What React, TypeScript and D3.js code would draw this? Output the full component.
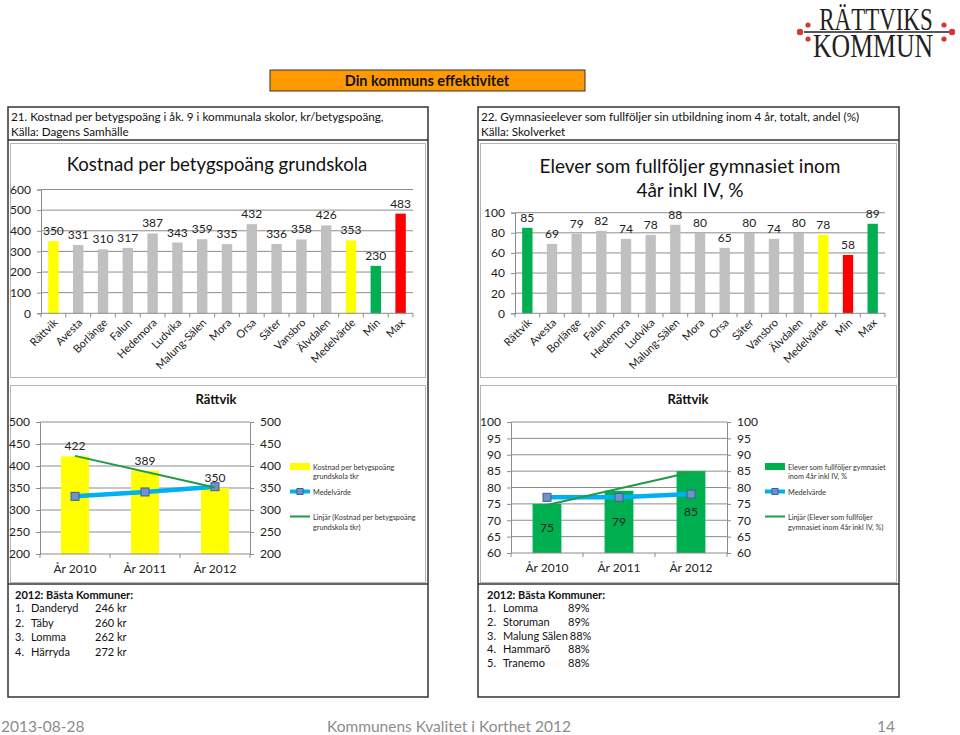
import { useEffect, useRef } from "react";
import * as d3 from "d3";

const FONT = "Lato, 'Open Sans', sans-serif";

// Top bar charts
const kommuner = ["Rättvik", "Avesta", "Borlänge", "Falun", "Hedemora", "Ludvika", "Malung-Sälen", "Mora", "Orsa", "Säter", "Vansbro", "Älvdalen", "Medelvärde", "Min", "Max"];
const kostnadPerPoang = [350, 331, 310, 317, 387, 343, 359, 335, 432, 336, 358, 426, 353, 230, 483];
const fullfoljerAndel = [85, 69, 79, 82, 74, 78, 88, 80, 65, 80, 74, 80, 78, 58, 89];
const kostnadTicks = [0, 100, 200, 300, 400, 500, 600];
const andelTicks = [0, 20, 40, 60, 80, 100];

// Rättvik over time
const ar = ["År 2010", "År 2011", "År 2012"];
const rattvikKostnad = [422, 389, 350];
const medelKostnad = [331, 341, 353];
const rattvikAndel = [75, 79, 85];
const medelAndel = [77, 77, 78];
const kostnadTicksAr = [200, 250, 300, 350, 400, 450, 500];
const andelTicksAr = [60, 65, 70, 75, 80, 85, 90, 95, 100];

// best municipalities
const bastaKostnad = [["1.", "Danderyd", "246 kr"], ["2.", "Täby", "260 kr"], ["3.", "Lomma", "262 kr"], ["4.", "Härryda", "272 kr"]];
const bastaAndel = [["1.", "Lomma", "89%"], ["2.", "Storuman", "89%"], ["3.", "Malung Sälen", "88%"], ["4.", "Hammarö", "88%"], ["5.", "Tranemo", "88%"]];

const GRAY = "#C0C0C0";
const kostnadFarg: Record<string, string> = { "Rättvik": "#FFFF00", "Medelvärde": "#FFFF00", "Min": "#00B050", "Max": "#FF0000" };
const andelFarg: Record<string, string> = { "Rättvik": "#00B050", "Medelvärde": "#FFFF00", "Min": "#FF0000", "Max": "#00B050" };

type Sel = d3.Selection<any, unknown, null, undefined>;

const drawBarChart = (svg: Sel, c: { left: number; right: number; y0: number; yTop: number; max: number; ticks: number[]; values: number[]; colors: Record<string, string> }) => {
  const g = svg.append("g");
  const x = d3.scaleBand().domain(kommuner).range([c.left, c.right]);
  const y = d3.scaleLinear().domain([0, c.max]).range([c.y0, c.yTop]);

  // gridlines
  g.selectAll(".grid").data(c.ticks.slice(1)).enter().append("line")
    .attr("x1", c.left).attr("x2", c.right)
    .attr("y1", d => y(d)).attr("y2", d => y(d))
    .attr("stroke", "#8c8c8c").attr("stroke-width", 1);

  const yAxis = g.append("g").attr("transform", `translate(${c.left},0)`)
    .call(d3.axisLeft(y).tickValues(c.ticks).tickSize(4).tickPadding(6));
  yAxis.select(".domain").attr("stroke", "#8c8c8c");
  yAxis.selectAll(".tick line").attr("stroke", "#8c8c8c");
  yAxis.selectAll("text").attr("font-family", FONT).attr("font-size", 12).attr("fill", "#222");

  // bars
  const bw = x.bandwidth() * 0.42;
  g.selectAll(".bar").data(c.values).enter().append("rect")
    .attr("x", (d, i) => (x(kommuner[i]) as number) + (x.bandwidth() - bw) / 2)
    .attr("y", d => y(d))
    .attr("width", bw)
    .attr("height", d => c.y0 - y(d))
    .attr("fill", (d, i) => c.colors[kommuner[i]] || GRAY);

  g.selectAll(".lbl").data(c.values).enter().append("text")
    .attr("x", (d, i) => (x(kommuner[i]) as number) + x.bandwidth() / 2)
    .attr("y", d => y(d) - 6)
    .attr("text-anchor", "middle")
    .attr("font-family", FONT).attr("font-size", 12).attr("fill", "#222")
    .text(d => d);

  // x axis
  g.append("line").attr("x1", c.left).attr("x2", c.right).attr("y1", c.y0).attr("y2", c.y0).attr("stroke", "#8c8c8c");
  const edges = kommuner.map(k => x(k) as number).concat([c.right]);
  g.selectAll(".xt").data(edges).enter().append("line")
    .attr("x1", d => d).attr("x2", d => d).attr("y1", c.y0).attr("y2", c.y0 + 4).attr("stroke", "#8c8c8c");
  g.selectAll(".xl").data(kommuner).enter().append("text")
    .attr("transform", d => `translate(${(x(d) as number) + x.bandwidth() / 2 + 5},${c.y0 + 10}) rotate(-45)`)
    .attr("text-anchor", "end")
    .attr("font-family", FONT).attr("font-size", 11).attr("fill", "#222")
    .text(d => d);
};

const drawComboChart = (svg: Sel, c: { left: number; right: number; y0: number; yTop: number; min: number; max: number; ticks: number[]; values: number[]; medel: number[]; barColor: string; inside: boolean; legendX: number; legendBar: string[]; legendTrend: string[]; titleX: number }) => {
  const g = svg.append("g");
  const x = d3.scaleBand().domain(ar).range([c.left, c.right]);
  const y = d3.scaleLinear().domain([c.min, c.max]).range([c.y0, c.yTop]);
  const cx = (i: number) => (x(ar[i]) as number) + x.bandwidth() / 2;

  g.append("text").attr("x", c.titleX).attr("y", 404).attr("text-anchor", "middle")
    .attr("font-family", FONT).attr("font-weight", "bold").attr("font-size", 13).attr("fill", "#111").text("Rättvik");

  g.selectAll(".grid").data(c.ticks.slice(1)).enter().append("line")
    .attr("x1", c.left).attr("x2", c.right)
    .attr("y1", d => y(d)).attr("y2", d => y(d))
    .attr("stroke", "#8c8c8c");

  const yl = g.append("g").attr("transform", `translate(${c.left},0)`)
    .call(d3.axisLeft(y).tickValues(c.ticks).tickSize(4).tickPadding(6));
  const yr = g.append("g").attr("transform", `translate(${c.right},0)`)
    .call(d3.axisRight(y).tickValues(c.ticks).tickSize(4).tickPadding(6));
  [yl, yr].forEach(a => {
    a.select(".domain").attr("stroke", "#8c8c8c");
    a.selectAll(".tick line").attr("stroke", "#8c8c8c");
    a.selectAll("text").attr("font-family", FONT).attr("font-size", 12).attr("fill", "#222");
  });

  const bw = x.bandwidth() * 0.4;
  g.selectAll(".bar").data(c.values).enter().append("rect")
    .attr("x", (d, i) => cx(i) - bw / 2)
    .attr("y", d => y(d))
    .attr("width", bw)
    .attr("height", d => c.y0 - y(d))
    .attr("fill", c.barColor);

  g.append("line").attr("x1", c.left).attr("x2", c.right).attr("y1", c.y0).attr("y2", c.y0).attr("stroke", "#8c8c8c");
  const edges = ar.map(a => x(a) as number).concat([c.right]);
  g.selectAll(".xt").data(edges).enter().append("line")
    .attr("x1", d => d).attr("x2", d => d).attr("y1", c.y0).attr("y2", c.y0 + 4).attr("stroke", "#8c8c8c");
  g.selectAll(".xl").data(ar).enter().append("text")
    .attr("x", d => (x(d) as number) + x.bandwidth() / 2).attr("y", c.y0 + 19)
    .attr("text-anchor", "middle").attr("font-family", FONT).attr("font-size", 12).attr("fill", "#222")
    .text(d => d);

  // linear trend of the bars
  const n = c.values.length;
  const mx = d3.mean(d3.range(n)) as number;
  const my = d3.mean(c.values) as number;
  const slope = d3.sum(d3.range(n), i => (i - mx) * (c.values[i] - my)) / d3.sum(d3.range(n), i => (i - mx) ** 2);
  const trend = (i: number) => my + slope * (i - mx);

  // Medelvärde line
  const line = d3.line<number>().x((d, i) => cx(i)).y(d => y(d));
  g.append("path").datum(c.medel).attr("d", line).attr("fill", "none").attr("stroke", "#00B0F0").attr("stroke-width", 4.5);
  g.selectAll(".mk").data(c.medel).enter().append("rect")
    .attr("x", (d, i) => cx(i) - 4).attr("y", d => y(d) - 4).attr("width", 8).attr("height", 8)
    .attr("fill", "#6F93C8").attr("stroke", "#3B5F96").attr("stroke-width", 1);

  g.append("line")
    .attr("x1", cx(0)).attr("y1", y(trend(0)))
    .attr("x2", cx(n - 1)).attr("y2", y(trend(n - 1)))
    .attr("stroke", "#1F9A48").attr("stroke-width", 2);

  // value labels
  g.selectAll(".lbl").data(c.values).enter().append("text")
    .attr("x", (d, i) => cx(i))
    .attr("y", d => c.inside ? (y(d) + c.y0) / 2 + 4 : y(d) - 6)
    .attr("text-anchor", "middle").attr("font-family", FONT).attr("font-size", 12).attr("fill", "#222")
    .text(d => d);

  // legend
  const L = g.append("g").attr("font-family", FONT).attr("font-size", 7.3).attr("fill", "#333");
  const lx = c.legendX;
  L.append("rect").attr("x", lx).attr("y", 463).attr("width", 20).attr("height", 7).attr("fill", c.barColor);
  c.legendBar.forEach((t, i) => L.append("text").attr("x", lx + 23).attr("y", 469.5 + i * 9.5).text(t));
  L.append("line").attr("x1", lx).attr("x2", lx + 20).attr("y1", 491.5).attr("y2", 491.5).attr("stroke", "#00B0F0").attr("stroke-width", 4);
  L.append("rect").attr("x", lx + 7).attr("y", 488.5).attr("width", 6).attr("height", 6).attr("fill", "#6F93C8").attr("stroke", "#3B5F96");
  L.append("text").attr("x", lx + 23).attr("y", 494.5).text("Medelvärde");
  L.append("line").attr("x1", lx).attr("x2", lx + 20).attr("y1", 516.5).attr("y2", 516.5).attr("stroke", "#1F9A48").attr("stroke-width", 2);
  c.legendTrend.forEach((t, i) => L.append("text").attr("x", lx + 23).attr("y", 519.5 + i * 10).text(t));
};

const drawPanel = (svg: Sel, x: number, w: number, rubrik: string, kalla: string) => {
  svg.append("rect").attr("x", x).attr("y", 107).attr("width", w).attr("height", 590)
    .attr("fill", "none").attr("stroke", "#333").attr("stroke-width", 1.5);
  svg.append("line").attr("x1", x).attr("x2", x + w).attr("y1", 140).attr("y2", 140).attr("stroke", "#333").attr("stroke-width", 1.5);
  svg.append("rect").attr("x", x + 2.5).attr("y", 143.5).attr("width", w - 5).attr("height", 234)
    .attr("fill", "white").attr("stroke", "#b5b5b5");
  svg.append("rect").attr("x", x + 2.5).attr("y", 385.5).attr("width", w - 5).attr("height", 197)
    .attr("fill", "white").attr("stroke", "#b5b5b5");
  svg.append("line").attr("x1", x).attr("x2", x + w).attr("y1", 584).attr("y2", 584).attr("stroke", "#333").attr("stroke-width", 1.5);
  svg.append("text").attr("x", x + 3).attr("y", 121).attr("font-family", FONT).attr("font-size", 11.7).attr("fill", "#111").text(rubrik);
  svg.append("text").attr("x", x + 3).attr("y", 136).attr("font-family", FONT).attr("font-size", 11.7).attr("fill", "#111").text(kalla);
};

const drawBasta = (svg: Sel, x: number, nameX: number, valX: number, rader: string[][], y0: number, dy: number) => {
  const t = svg.append("g").attr("font-family", FONT).attr("font-size", 11).attr("fill", "#111");
  t.append("text").attr("x", x).attr("y", 599).attr("font-weight", "bold").text("2012:  Bästa Kommuner:");
  rader.forEach((r, i) => {
    const yy = y0 + i * dy;
    t.append("text").attr("x", x).attr("y", yy).text(r[0]);
    const name = t.append("text").attr("x", nameX).attr("y", yy).text(r[1]);
    const end = nameX + (name.node() as SVGTextElement).getComputedTextLength() + 2;
    t.append("text").attr("x", Math.max(valX, end)).attr("y", yy).text(r[2]);
  });
};

const App = () => {
  const ref = useRef<SVGSVGElement>(null);

  useEffect(() => {
    const svg = d3.select(ref.current) as Sel;
    svg.selectAll("*").remove();
    svg.append("rect").attr("width", 960).attr("height", 735).attr("fill", "white");

    // logo (narrow serif lettering, squeezed horizontally)
    const logo = svg.append("g").attr("fill", "#231F20").attr("font-family", "'Liberation Serif', 'DejaVu Serif', serif");
    logo.append("text").attr("transform", "translate(876,30) scale(0.74,1)").attr("text-anchor", "middle")
      .attr("font-size", 31).text("RÄTTVIKS");
    logo.append("text").attr("transform", "translate(873,57) scale(0.78,1)").attr("text-anchor", "middle")
      .attr("font-size", 33).text("KOMMUN");
    logo.append("line").attr("x1", 804).attr("x2", 951).attr("y1", 32).attr("y2", 32).attr("stroke", "#231F20").attr("stroke-width", 1.5);
    [[800, 32, 3.2], [808, 25, 2.6], [808, 39, 2.6], [952, 32, 3.2], [944, 25, 2.6], [944, 39, 2.6]].forEach(([cx, cy, r]) =>
      logo.append("circle").attr("cx", cx).attr("cy", cy).attr("r", r).attr("fill", "#D2383C"));

    // banner
    svg.append("rect").attr("x", 270).attr("y", 70).attr("width", 315).attr("height", 21)
      .attr("fill", "#FF9900").attr("stroke", "#333").attr("stroke-width", 1);
    svg.append("text").attr("x", 427).attr("y", 86).attr("text-anchor", "middle")
      .attr("font-family", FONT).attr("font-weight", "bold").attr("font-size", 14.5).attr("fill", "#111")
      .text("Din kommuns effektivitet");

    drawPanel(svg, 8, 420, "21.  Kostnad per betygspoäng i åk. 9 i kommunala skolor, kr/betygspoäng,", "Källa: Dagens Samhälle");
    drawPanel(svg, 478, 421, "22.  Gymnasieelever som fullföljer sin utbildning inom 4 år, totalt, andel (%)", "Källa: Skolverket");

    // chart titles
    svg.append("text").attr("x", 217).attr("y", 171).attr("text-anchor", "middle")
      .attr("font-family", FONT).attr("font-size", 18.6).attr("fill", "#111").text("Kostnad per betygspoäng grundskola");
    svg.append("text").attr("x", 690).attr("y", 173).attr("text-anchor", "middle")
      .attr("font-family", FONT).attr("font-size", 19).attr("fill", "#111").text("Elever som fullföljer gymnasiet inom");
    svg.append("text").attr("x", 690).attr("y", 197).attr("text-anchor", "middle")
      .attr("font-family", FONT).attr("font-size", 19).attr("fill", "#111").text("4år inkl IV, %");

    drawBarChart(svg, { left: 41, right: 413, y0: 313.3, yTop: 189.5, max: 600, ticks: kostnadTicks, values: kostnadPerPoang, colors: kostnadFarg });
    drawBarChart(svg, { left: 515, right: 885, y0: 313.3, yTop: 212.7, max: 100, ticks: andelTicks, values: fullfoljerAndel, colors: andelFarg });

    drawComboChart(svg, {
      left: 40, right: 250, y0: 554, yTop: 422, min: 200, max: 500, ticks: kostnadTicksAr,
      values: rattvikKostnad, medel: medelKostnad, barColor: "#FFFF00", inside: false, legendX: 290,
      legendBar: ["Kostnad per betygspoäng", "grundskola tkr"], legendTrend: ["Linjär (Kostnad per betygspoäng", "grundskola tkr)"], titleX: 216,
    });
    drawComboChart(svg, {
      left: 511, right: 727, y0: 553, yTop: 422, min: 60, max: 100, ticks: andelTicksAr,
      values: rattvikAndel, medel: medelAndel, barColor: "#00B050", inside: true, legendX: 765,
      legendBar: ["Elever som fullföljer gymnasiet", "inom 4år inkl IV, %"], legendTrend: ["Linjär (Elever som fullföljer", "gymnasiet inom 4år inkl IV, %)"], titleX: 688,
    });

    drawBasta(svg, 15, 31, 95, bastaKostnad, 612, 14.5);
    drawBasta(svg, 487, 503, 568, bastaAndel, 612, 13.8);

    // footer
    const f = svg.append("g").attr("font-family", FONT).attr("font-size", 15.5).attr("fill", "#8c8c8c");
    f.append("text").attr("x", 1).attr("y", 732).text("2013-08-28");
    f.append("text").attr("x", 327).attr("y", 732).text("Kommunens Kvalitet i Korthet 2012");
    f.append("text").attr("x", 895).attr("y", 732).attr("text-anchor", "end").text("14");
  }, []);

  return <svg ref={ref} width={960} height={735} style={{ position: "absolute", left: 0, top: 0 }} />;
};

export default App;
